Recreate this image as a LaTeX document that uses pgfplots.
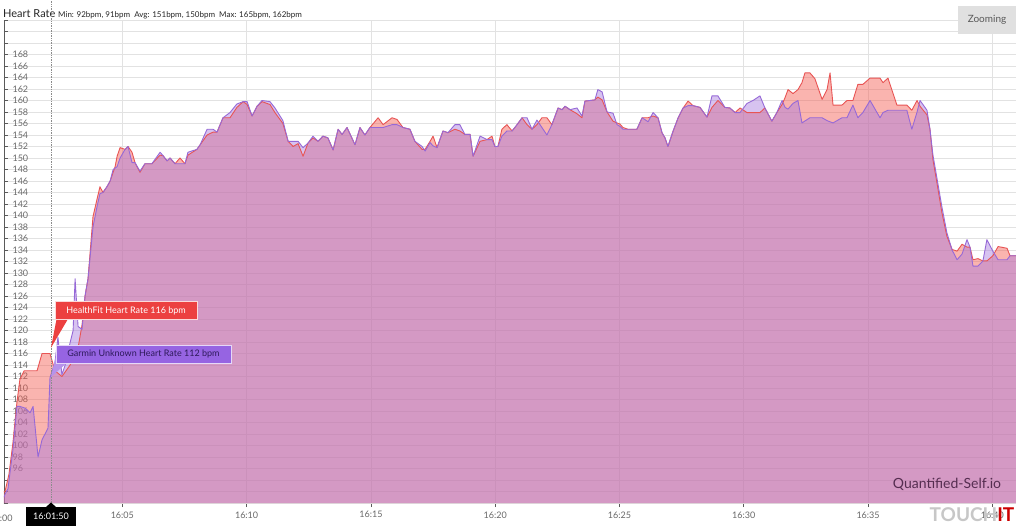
\documentclass[border=0pt]{standalone}
\usepackage{fontspec}
\setmainfont{Lato}
\usepackage{pgfplots}
\pgfplotsset{compat=1.18}
\usepackage{pgfplotstable}
\definecolor{redfill}{RGB}{244,89,78}
\definecolor{purplefill}{RGB}{167,122,222}
\definecolor{redline}{RGB}{232,84,84}
\definecolor{purpleline}{RGB}{150,105,215}
\definecolor{gridgray}{RGB}{226,226,226}
\definecolor{axisgray}{RGB}{90,90,90}
\definecolor{labelgray}{RGB}{105,105,105}
\definecolor{ttred}{RGB}{236,64,64}
\definecolor{ttpurple}{RGB}{150,100,226}
\definecolor{tttext}{RGB}{45,25,90}
\definecolor{qstext}{RGB}{85,45,80}

\pgfplotstableread{
m v
0.24 92
0.28 92
0.44 95
0.60 100.5
0.76 107.5
0.88 111.5
1.05 113
1.29 113
1.57 113
1.77 116
2.09 116
2.29 113
2.57 112
2.90 114
3.22 117
3.38 121
3.50 126
3.62 129
3.82 139.8
3.98 142.8
4.10 145
4.22 144
4.38 145
4.51 146
4.71 148.5
4.79 150.3
4.91 151.8
5.11 151.5
5.23 152
5.39 151
5.51 149.2
5.71 147.5
5.91 149
6.19 149
6.52 150.5
6.64 150.4
6.80 149.5
6.92 150
7.12 149
7.32 150
7.52 149
7.64 150.5
8.00 151.5
8.13 152.3
8.41 154
8.65 154.5
8.81 154.5
9.05 157
9.33 157
9.61 158.8
9.86 159.8
10.02 159.3
10.22 157.3
10.42 159
10.62 159.8
10.94 159.3
11.14 157.9
11.46 156
11.67 152.9
11.87 152
12.07 152.5
12.27 150.3
12.47 152.6
12.67 153.5
12.87 152.9
13.07 153.8
13.27 153.5
13.48 151.4
13.68 155
13.84 154.1
14.04 155.3
14.36 152.3
14.56 155.3
14.76 154
14.96 155.3
15.29 157
15.49 155.8
15.85 157
16.05 156.7
16.29 155.3
16.57 155
16.77 152.9
17.06 151.5
17.18 151.5
17.38 152.9
17.50 153.8
17.66 151.8
17.90 154.7
18.10 154.4
18.38 155
18.58 154.7
18.78 154.1
18.99 154.1
19.11 150.3
19.39 152.9
19.67 153.2
19.87 153.8
19.99 152
20.11 152
20.27 155
20.47 155.8
20.68 154.7
20.88 155.8
21.08 157
21.28 155.8
21.48 155
21.68 155.8
21.88 157
22.08 157
22.28 155.8
22.53 158.7
22.69 158.4
22.81 159
23.01 158.4
23.29 157.7
23.49 157
23.61 159.9
24.01 160.1
24.13 160.6
24.30 160.1
24.50 158
24.74 156.4
24.90 156.1
25.02 155.9
25.14 155.3
25.34 155
25.70 155
25.91 157
26.15 157
26.35 157.3
26.55 157
26.71 154.4
26.83 153.5
26.95 152
27.15 154.6
27.36 157
27.56 158.7
27.76 159.9
27.96 159.1
28.24 158.8
28.52 157.1
28.72 158.8
28.96 160
29.24 158.8
29.44 158.7
29.65 157.9
29.85 158.7
30.13 157.9
30.37 157.9
30.65 157.9
30.85 158.7
31.13 156.4
31.33 157.9
31.54 159.3
31.66 160.5
31.78 161.9
31.98 161.2
32.18 161.9
32.34 163.1
32.46 164.8
32.66 164.8
32.86 163.8
33.15 160.2
33.35 161.9
33.47 164.8
33.59 159.2
33.95 159.2
34.15 160
34.39 160
34.59 162.8
34.79 162.8
35.08 163.9
35.48 163.9
35.60 163.1
35.80 163.9
36.16 159.2
36.56 159.2
36.76 158.3
36.97 160
37.09 159
37.37 157.5
37.49 155
37.61 149.7
37.77 145.7
37.97 140.5
38.17 136.4
38.38 134.1
38.58 133.8
38.78 135
38.98 134.5
39.10 134.5
39.22 132.3
39.42 132.5
39.62 132.1
39.78 132.1
40.02 133
40.23 134.6
40.59 134.3
40.71 133
40.95 133
}\healthfit

\pgfplotstableread{
m v
0.24 91
0.28 91.5
0.40 92.5
0.60 99.3
0.76 106.8
0.88 106.8
1.09 106.5
1.29 105.7
1.41 106.8
1.61 98
1.77 101
1.89 102
2.01 103
2.09 111.8
2.29 114.4
2.41 118.8
2.57 112.3
2.70 114
2.90 117.9
3.02 120
3.10 129
3.22 120.7
3.38 120.2
3.50 126
3.62 129
3.82 138
3.98 141.5
4.10 143.8
4.22 144
4.38 145
4.51 146
4.63 148
4.79 148.5
4.91 150
5.11 151.5
5.23 152
5.39 149.2
5.51 149.2
5.71 147.7
5.91 149
6.19 149
6.52 151
6.64 150.4
6.80 149.5
6.92 150
7.12 149
7.32 149
7.52 149
7.64 151
8.00 151.5
8.13 152.3
8.41 155
8.65 155
8.81 154.5
9.05 157
9.33 157.9
9.61 159.4
9.86 159.8
10.02 159.8
10.22 157.3
10.42 159
10.62 160
10.94 159.8
11.14 158.7
11.46 156.5
11.67 152.9
11.87 152.9
12.07 152.9
12.27 151.8
12.47 152.6
12.67 153.8
12.87 152.9
13.07 153.8
13.27 153.5
13.48 151.4
13.68 155
13.84 154.1
14.04 155.3
14.36 152.3
14.56 155.3
14.76 154
14.96 155.3
15.29 155.3
15.49 155.3
15.85 155.8
16.05 155.8
16.29 155.3
16.57 155
16.77 152.9
17.06 152
17.18 151.2
17.38 152.7
17.50 152.1
17.66 151.8
17.90 154.7
18.10 154.4
18.38 155.8
18.58 155.8
18.78 154.1
18.99 154.1
19.11 150.3
19.39 153.8
19.67 153.2
19.87 153.2
19.99 152
20.11 152
20.27 153.8
20.47 154.7
20.68 154.7
20.88 155.8
21.08 157
21.28 157
21.48 155
21.68 156.6
21.88 155.3
22.08 154
22.28 155.8
22.53 158.7
22.69 158.4
22.81 159
23.01 158.4
23.29 158.7
23.49 157.3
23.61 159.9
24.01 160.1
24.13 161.9
24.30 161.5
24.50 158
24.74 157.8
24.90 155.8
25.02 155.5
25.14 155
25.34 155
25.70 155
25.91 157
26.15 156.3
26.35 157.9
26.55 157
26.71 154.4
26.83 153.5
26.95 152
27.15 154.6
27.36 157
27.56 158.7
27.76 159.1
27.96 159.1
28.24 158.8
28.52 157.1
28.72 160.8
28.96 160.8
29.24 158.8
29.44 158.7
29.65 157.9
29.85 157.9
30.13 159.5
30.37 160
30.65 160.8
30.85 158.7
31.13 156.4
31.33 157.9
31.54 160
31.66 158.8
31.78 158.5
31.98 159.5
32.18 160
32.34 156.1
32.66 157
32.86 157
33.15 157
33.35 156.5
33.59 156.1
33.95 157
34.15 157
34.39 159.2
34.59 157
34.79 157.9
35.08 160
35.48 157
35.60 157.9
35.80 158.3
36.16 158.3
36.56 158.3
36.76 155
36.97 158
37.09 160
37.37 158.3
37.49 155
37.61 150.5
37.77 146.5
37.97 141.5
38.17 137
38.38 134
38.58 132.3
38.78 133.3
38.98 135.8
39.10 134.5
39.22 131.2
39.42 131.2
39.62 132.1
39.78 135.8
40.02 133.8
40.23 132.3
40.59 132.3
40.71 133
40.95 133
}\garmin

\begin{document}
\begin{tikzpicture}[x=1pt,y=1pt]
\useasboundingbox (0,0) rectangle (1024,530);
\fill[white] (0,0) rectangle (1024,530);
% title
\node[anchor=base west, inner sep=0pt, text=black!85] at (3,512)
  {\fontsize{11}{13}\selectfont Heart Rate\ \fontsize{8}{10}\selectfont Min: 92bpm, 91bpm\ \ Avg: 151bpm, 150bpm\ \ Max: 165bpm, 162bpm};
\begin{axis}[
  at={(4pt,27pt)}, anchor=south west,
  scale only axis, width=1012pt, height=483pt,
  xmin=0.24, xmax=40.95, ymin=90, ymax=174,
  clip mode=individual,
  axis x line*=bottom, axis y line*=left,
  axis line style={draw=axisgray, line width=0.8pt, -},
  xtick={5,10,15,20,25,30,35,40},
  xticklabels={16:05,16:10,16:15,16:20,16:25,16:30,16:35,16:40},
  ytick={96,98,...,168},
  extra y ticks={90,92,94,170,172,174},
  extra y tick labels={},
  extra y tick style={grid=major},
  grid=major,
  major grid style={draw=gridgray, line width=0.7pt},
  tick align=inside,
  major tick length=4pt,
  tick style={draw=axisgray, line width=0.6pt},
  xtick style={yshift=-4pt},
  ticklabel style={font=\fontsize{9}{10}\selectfont, text=labelgray},
  /pgf/number format/assume math mode=true,
  yticklabel style={anchor=west, xshift=5pt},
  xticklabel style={yshift=-5pt},
]
\addplot[draw=none, fill=redfill, fill opacity=0.45] table[x=m,y=v]{\healthfit} \closedcycle;
\addplot[draw=none, fill=purplefill, fill opacity=0.45] table[x=m,y=v]{\garmin} \closedcycle;
\addplot[draw=redline, line width=0.9pt, line join=round] table[x=m,y=v]{\healthfit};
\addplot[draw=purpleline, line width=0.9pt, line join=round] table[x=m,y=v]{\garmin};
% crosshair
\draw[densely dotted, black!45, line width=0.7pt] (axis cs:2.13,90) -- (axis cs:2.13,177.6);
% HealthFit tooltip
\fill[ttred] (axis cs:2.35,121.9) -- (axis cs:2.13,117.0) -- (axis cs:2.80,121.9) -- cycle;
\filldraw[fill=ttred, draw=white!80!ttred, line width=0.6pt] (axis cs:2.29,121.9) rectangle (axis cs:8.0,125.0);
\node[text=white, font=\fontsize{9}{10}\selectfont] at (axis cs:5.15,123.45) {HealthFit Heart Rate 116 bpm};
% Garmin tooltip
\fill[ttpurple!70!white] (axis cs:2.36,116.2) -- (axis cs:2.13,111.9) -- (axis cs:2.75,114.3) -- cycle;
\filldraw[fill=ttpurple, draw=white!75!ttpurple, line width=0.6pt] (axis cs:2.33,114.3) rectangle (axis cs:9.37,117.4);
\node[text=tttext, font=\fontsize{9}{10}\selectfont] at (axis cs:5.85,115.85) {Garmin Unknown Heart Rate 112 bpm};
% 16:00 label cut at the left edge
\node[text=labelgray, font=\fontsize{9}{10}\selectfont, anchor=north] at (axis cs:0,90) [yshift=-8pt, xshift=3pt] {16:00};
\end{axis}
% zooming button
\fill[black!12] (958,496) rectangle (1016,524);
\node[text=black!65, font=\fontsize{10}{12}\selectfont] at (987,510) {Zooming};
% time label
\fill[black] (46,23) -- (51,27.5) -- (56,23) -- cycle;
\fill[black] (26,4) rectangle (76,23);
\node[text=white, font=\fontsize{9}{10}\selectfont] at (51,13.5) {16:01:50};
% watermark texts
\node[text=qstext, font=\fontsize{14}{16}\selectfont] at (947,46) {Quantified-Self.io};
\node[font=\fontsize{19}{20}\bfseries, inner sep=0pt] at (972,15) {\textcolor{black!22}{TOUCH}\textcolor{red!80!black}{IT}};
\end{tikzpicture}
\end{document}
